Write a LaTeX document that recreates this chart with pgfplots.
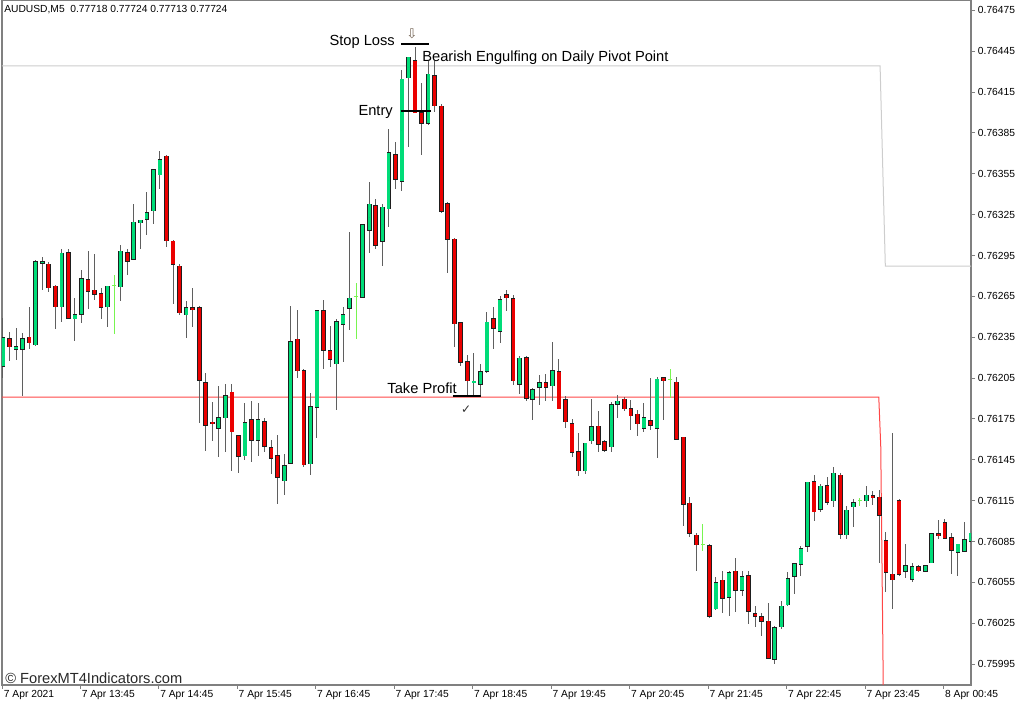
\documentclass[border=0pt]{standalone}
\usepackage{pgfplots}
\pgfplotsset{compat=1.18}
\usepackage{pgfplotstable}
\usepackage{fontspec}
\setmainfont{Liberation Sans}
\newfontfamily\symfont{DejaVu Sans}

\definecolor{bull}{RGB}{0,220,120}
\definecolor{bear}{RGB}{235,0,0}
\definecolor{wick}{RGB}{95,95,95}
\definecolor{edge}{RGB}{30,30,30}
\definecolor{doji}{RGB}{120,245,80}
\definecolor{axisgray}{RGB}{128,128,128}
\definecolor{pivot}{RGB}{205,205,205}
\definecolor{tpline}{RGB}{255,70,70}

% k = bar index (M5), o h l c
\pgfplotstableread{
k o h l c
0 0.76214 0.76250 0.76206 0.76235
2 0.76227 0.76243 0.76219 0.76229
3 0.76226 0.76239 0.76193 0.76234
5 0.76230 0.76292 0.76229 0.76291
6 0.76289 0.76294 0.76270 0.76290
9 0.76259 0.76300 0.76247 0.76298
11 0.76249 0.76265 0.76233 0.76252
12 0.76252 0.76285 0.76246 0.76278
16 0.76258 0.76273 0.76244 0.76273
18 0.76272 0.76303 0.76262 0.76298
20 0.76293 0.76333 0.76292 0.76320
21 0.76319 0.76322 0.76301 0.76321
22 0.76323 0.76343 0.76311 0.76328
23 0.76328 0.76359 0.76320 0.76358
24 0.76355 0.76373 0.76345 0.76366
28 0.76252 0.76263 0.76236 0.76257
33 0.76169 0.76200 0.76148 0.76177
34 0.76177 0.76202 0.76152 0.76193
37 0.76148 0.76187 0.76145 0.76172
39 0.76160 0.76187 0.76148 0.76175
43 0.76131 0.76150 0.76120 0.76142
44 0.76143 0.76258 0.76142 0.76232
47 0.76142 0.76195 0.76135 0.76184
48 0.76184 0.76256 0.76162 0.76255
51 0.76217 0.76249 0.76182 0.76248
52 0.76245 0.76258 0.76217 0.76252
53 0.76257 0.76313 0.76241 0.76264
55 0.76265 0.76319 0.76264 0.76318
56 0.76314 0.76350 0.76298 0.76333
58 0.76306 0.76334 0.76288 0.76331
59 0.76331 0.76388 0.76316 0.76372
61 0.76351 0.76432 0.76343 0.76426
62 0.76426 0.76442 0.76376 0.76441
65 0.76393 0.76439 0.76392 0.76429
72 0.76203 0.76224 0.76193 0.76204
73 0.76202 0.76216 0.76193 0.76211
74 0.76211 0.76255 0.76210 0.76247
76 0.76241 0.76267 0.76232 0.76264
79 0.76202 0.76221 0.76193 0.76221
81 0.76191 0.76199 0.76175 0.76198
82 0.76198 0.76208 0.76186 0.76201
84 0.76200 0.76233 0.76190 0.76211
89 0.76138 0.76158 0.76135 0.76158
90 0.76160 0.76191 0.76158 0.76170
93 0.76156 0.76188 0.76151 0.76187
94 0.76187 0.76194 0.76177 0.76189
98 0.76169 0.76187 0.76166 0.76177
100 0.76169 0.76207 0.76148 0.76205
109 0.76037 0.76060 0.76036 0.76056
111 0.76044 0.76064 0.76031 0.76062
113 0.76050 0.76064 0.76046 0.76060
118 0.75999 0.76024 0.75996 0.76022
119 0.76023 0.76043 0.76022 0.76038
120 0.76039 0.76063 0.76038 0.76058
121 0.76059 0.76068 0.76047 0.76068
122 0.76069 0.76083 0.76061 0.76080
123 0.76082 0.76130 0.76078 0.76129
125 0.76109 0.76128 0.76107 0.76126
127 0.76116 0.76140 0.76111 0.76136
129 0.76091 0.76112 0.76088 0.76109
130 0.76111 0.76118 0.76097 0.76114
132 0.76115 0.76127 0.76112 0.76119
138 0.76064 0.76084 0.76059 0.76068
139 0.76058 0.76069 0.76055 0.76067
141 0.76064 0.76068 0.76064 0.76068
142 0.76070 0.76091 0.76070 0.76091
146 0.76078 0.76084 0.76061 0.76084
147 0.76079 0.76100 0.76078 0.76087
148 0.76085 0.76093 0.76083 0.76091
}\bulltab

\pgfplotstableread{
k o h l c
1 0.76235 0.76240 0.76219 0.76229
4 0.76235 0.76259 0.76228 0.76231
7 0.76290 0.76291 0.76269 0.76273
8 0.76273 0.76274 0.76242 0.76258
10 0.76298 0.76300 0.76249 0.76250
13 0.76277 0.76300 0.76257 0.76269
14 0.76270 0.76297 0.76263 0.76267
15 0.76268 0.76273 0.76250 0.76258
19 0.76298 0.76299 0.76280 0.76292
25 0.76369 0.76370 0.76302 0.76307
26 0.76306 0.76307 0.76260 0.76289
27 0.76287 0.76288 0.76251 0.76253
29 0.76257 0.76273 0.76244 0.76256
30 0.76257 0.76258 0.76172 0.76204
31 0.76202 0.76208 0.76151 0.76171
32 0.76173 0.76189 0.76160 0.76172
35 0.76195 0.76202 0.76138 0.76166
36 0.76163 0.76164 0.76136 0.76148
38 0.76175 0.76189 0.76144 0.76160
40 0.76174 0.76176 0.76151 0.76156
41 0.76156 0.76160 0.76135 0.76148
42 0.76148 0.76164 0.76113 0.76132
45 0.76234 0.76256 0.76206 0.76211
46 0.76212 0.76213 0.76141 0.76143
49 0.76256 0.76263 0.76212 0.76227
50 0.76226 0.76244 0.76214 0.76220
57 0.76332 0.76337 0.76300 0.76303
60 0.76369 0.76380 0.76345 0.76351
63 0.76439 0.76449 0.76400 0.76401
64 0.76401 0.76422 0.76369 0.76393
66 0.76427 0.76439 0.76402 0.76405
67 0.76405 0.76406 0.76326 0.76328
68 0.76333 0.76334 0.76282 0.76307
69 0.76308 0.76309 0.76229 0.76246
70 0.76246 0.76247 0.76215 0.76217
71 0.76217 0.76222 0.76192 0.76203
75 0.76249 0.76259 0.76228 0.76242
77 0.76266 0.76270 0.76254 0.76264
78 0.76263 0.76267 0.76201 0.76203
80 0.76221 0.76223 0.76190 0.76191
83 0.76201 0.76208 0.76188 0.76198
85 0.76211 0.76219 0.76183 0.76184
86 0.76189 0.76192 0.76168 0.76173
87 0.76172 0.76176 0.76148 0.76151
88 0.76152 0.76165 0.76133 0.76138
91 0.76170 0.76182 0.76152 0.76157
92 0.76159 0.76161 0.76152 0.76153
95 0.76190 0.76192 0.76182 0.76183
96 0.76182 0.76190 0.76168 0.76177
97 0.76179 0.76182 0.76163 0.76172
99 0.76174 0.76206 0.76168 0.76171
101 0.76205 0.76207 0.76175 0.76203
103 0.76203 0.76206 0.76160 0.76161
104 0.76162 0.76163 0.76097 0.76113
105 0.76113 0.76119 0.76090 0.76091
106 0.76091 0.76092 0.76064 0.76084
108 0.76083 0.76084 0.76029 0.76031
110 0.76057 0.76064 0.76033 0.76044
112 0.76063 0.76074 0.76034 0.76049
114 0.76060 0.76064 0.76025 0.76034
115 0.76033 0.76038 0.76023 0.76031
116 0.76031 0.76033 0.76016 0.76028
117 0.76028 0.76039 0.76000 0.76001
124 0.76130 0.76135 0.76101 0.76108
126 0.76126 0.76133 0.76112 0.76114
128 0.76135 0.76136 0.76088 0.76092
133 0.76119 0.76123 0.76113 0.76118
134 0.76118 0.76124 0.76070 0.76105
135 0.76086 0.76093 0.76049 0.76063
136 0.76062 0.76165 0.76036 0.76058
137 0.76115 0.76117 0.76060 0.76061
140 0.76068 0.76069 0.76064 0.76065
143 0.76091 0.76102 0.76088 0.76090
144 0.76099 0.76102 0.76087 0.76088
145 0.76088 0.76091 0.76061 0.76079
}\beartab

\pgfplotstableread{
k o h l c
17 0.76273 0.76281 0.76238 0.76273
54 0.76265 0.76276 0.76235 0.76265
102 0.76204 0.76212 0.76190 0.76204
107 0.76083 0.76099 0.76079 0.76083
131 0.76115 0.76117 0.76111 0.76115
}\dojitab

\pgfplotsset{
  wicks/.style={only marks, mark=*, mark size=0pt, mark options={draw=none, fill=none}, forget plot,
    error bars/.cd, y dir=both, y explicit, error mark=none,
    error bar style={draw=#1, line width=0.75pt}},
  bodies/.style 2 args={only marks, mark=*, mark size=0pt, mark options={draw=none, fill=none}, forget plot,
    error bars/.cd, y dir=both, y explicit, error mark=none,
    error bar style={draw=#1, line width=#2}},
}

\begin{document}
\begin{tikzpicture}
\path[use as bounding box] (0pt,0pt) rectangle (768pt,528.75pt);
\begin{axis}[
  at={(1.5pt,15pt)}, anchor=south west,
  scale only axis, width=726.75pt, height=513.375pt,
  xmin=-0.15, xmax=148.0, ymin=0.759796, ymax=0.764823,
  axis line style={draw=axisgray, line width=1pt},
  xtick pos=bottom, ytick pos=right,
  tick align=outside, major tick length=3pt,
  tick style={draw=axisgray, line width=0.75pt},
  xtick={-0.1,11.8,23.8,35.8,47.8,59.8,71.8,83.8,95.8,107.8,119.8,131.8,143.8},
  xticklabels={7 Apr 2021,7 Apr 13:45,7 Apr 14:45,7 Apr 15:45,7 Apr 16:45,7 Apr 17:45,7 Apr 18:45,7 Apr 19:45,7 Apr 20:45,7 Apr 21:45,7 Apr 22:45,7 Apr 23:45,8 Apr 00:45},
  ytick={0.75995,0.76025,0.76055,0.76085,0.76115,0.76145,0.76175,0.76205,0.76235,0.76265,0.76295,0.76325,0.76355,0.76385,0.76415,0.76445,0.76475},
  yticklabels={0.75995,0.76025,0.76055,0.76085,0.76115,0.76145,0.76175,0.76205,0.76235,0.76265,0.76295,0.76325,0.76355,0.76385,0.76415,0.76445,0.76475},
  scaled y ticks=false,
  xticklabel style={anchor=north west, inner sep=1pt, font=\fontsize{7.7}{9}\selectfont},
  yticklabel style={anchor=west, inner sep=1pt, xshift=1pt, font=\fontsize{7.7}{9}\selectfont},
  clip=true,
]

% daily pivot (grey) and take-profit level (red)
\addplot[pivot, line width=0.75pt, forget plot] coordinates {(-0.2,0.764342) (134.1,0.764342) (134.9,0.762873) (148.5,0.762873)};
\addplot[tpline, line width=0.75pt, forget plot] coordinates {(-0.2,0.761911) (133.9,0.761911) (134.2,0.761550) (134.5,0.760200) (134.6,0.759700)};

% wicks
\addplot[wicks=wick] table[x=k, y expr={(\thisrow{h}+\thisrow{l})/2}, y error expr={(\thisrow{h}-\thisrow{l})/2}] {\bulltab};
\addplot[wicks=wick] table[x=k, y expr={(\thisrow{h}+\thisrow{l})/2}, y error expr={(\thisrow{h}-\thisrow{l})/2}] {\beartab};
\addplot[wicks=doji] table[x=k, y expr={(\thisrow{h}+\thisrow{l})/2}, y error expr={(\thisrow{h}-\thisrow{l})/2}] {\dojitab};

% bodies: dark outline, then fill
\addplot[bodies={edge}{3.5pt}] table[x=k, y expr={(\thisrow{o}+\thisrow{c})/2}, y error expr={abs(\thisrow{c}-\thisrow{o})/2+0.0000045}] {\bulltab};
\addplot[bodies={bull}{2.4pt}] table[x=k, y expr={(\thisrow{o}+\thisrow{c})/2}, y error expr={abs(\thisrow{c}-\thisrow{o})/2}] {\bulltab};
\addplot[bodies={edge}{3.5pt}] table[x=k, y expr={(\thisrow{o}+\thisrow{c})/2}, y error expr={abs(\thisrow{c}-\thisrow{o})/2+0.0000045}] {\beartab};
\addplot[bodies={bear}{2.4pt}] table[x=k, y expr={(\thisrow{o}+\thisrow{c})/2}, y error expr={abs(\thisrow{c}-\thisrow{o})/2}] {\beartab};
\addplot[only marks, mark=-, mark size=1.6pt, color=doji, mark options={line width=0.75pt}, forget plot] table[x=k, y=c] {\dojitab};

% trade markers
\addplot[black, line width=1.5pt, forget plot] coordinates {(60.86,0.764504) (65.14,0.764504)};
\addplot[black, line width=1.5pt, forget plot] coordinates {(60.8,0.764009) (65.4,0.764009)};
\addplot[black, line width=1.5pt, forget plot] coordinates {(68.8,0.761922) (73.1,0.761922)};

\node[anchor=east, inner sep=0pt, font=\fontsize{11}{13}\selectfont] at (axis cs:59.94,0.764518) {Stop Loss};
\node[inner sep=0pt, text={rgb,255:red,120;green,105;blue,90}, font=\symfont\fontsize{10}{11}\selectfont] at (axis cs:62.54,0.764577) {⇩};
\node[anchor=west, inner sep=0pt, font=\fontsize{11}{13}\selectfont] at (axis cs:64.07,0.764404) {Bearish Engulfing on Daily Pivot Point};
\node[anchor=east, inner sep=0pt, font=\fontsize{11}{13}\selectfont] at (axis cs:59.63,0.764004) {Entry};
\node[anchor=east, inner sep=0pt, font=\fontsize{11}{13}\selectfont] at (axis cs:69.42,0.761977) {Take Profit};
\node[inner sep=0pt, text={rgb,255:red,50;green,50;blue,50}, font=\symfont\fontsize{9}{10}\selectfont] at (axis cs:70.8,0.761816) {✓};
\end{axis}

\node[anchor=west, inner sep=0pt, font=\fontsize{7.7}{9}\selectfont] at (3pt,521.25pt) {AUDUSD,M5\ \ 0.77718 0.77724 0.77713 0.77724};
\node[anchor=west, inner sep=0pt, text={rgb,255:red,40;green,40;blue,40}, font=\fontsize{11}{13}\selectfont] at (3.75pt,20.25pt) {© ForexMT4Indicators.com};
\end{tikzpicture}
\end{document}
